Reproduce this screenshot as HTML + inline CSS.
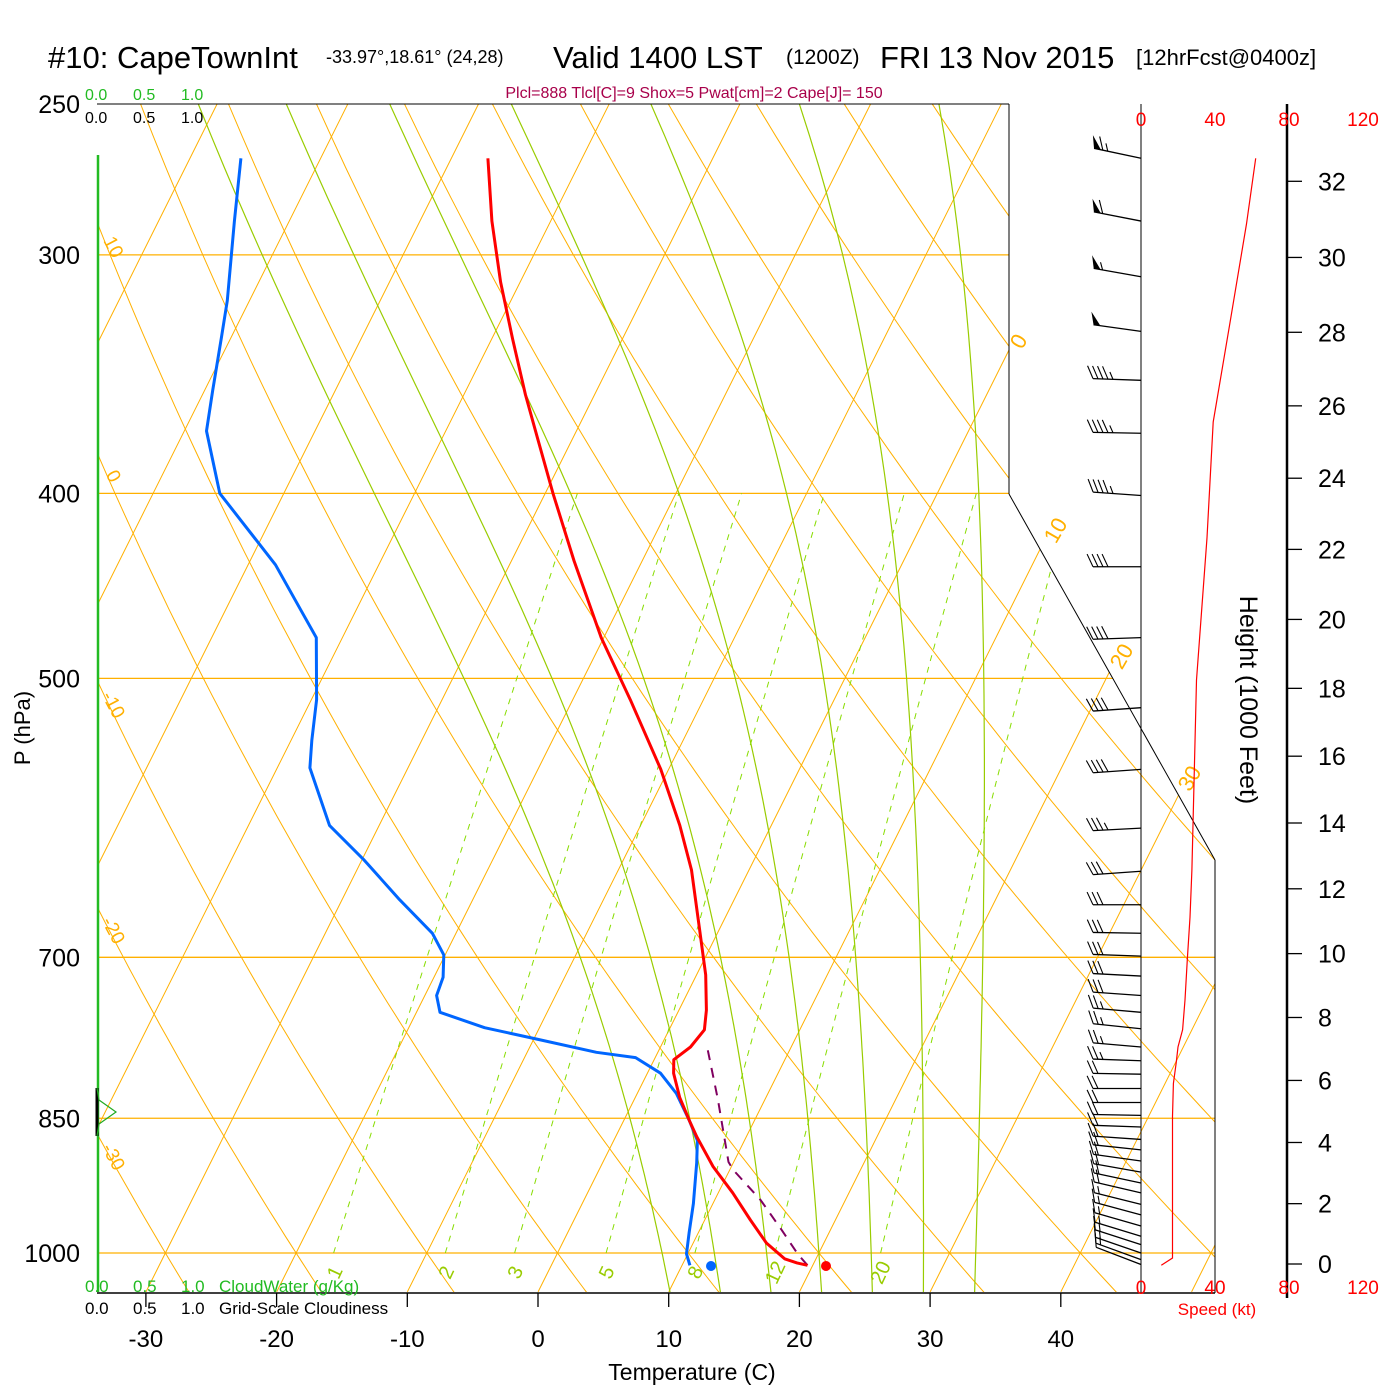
<!DOCTYPE html>
<html><head><meta charset="utf-8"><title>Skew-T CapeTownInt</title>
<style>
html,body{margin:0;padding:0;background:#fff;}
svg{display:block;font-family:"Liberation Sans",Arial,sans-serif;}
</style></head>
<body>
<svg id="chart" width="1400" height="1400" viewBox="0 0 1400 1400" xmlns="http://www.w3.org/2000/svg">
<defs>
<clipPath id="plotclip"><polygon points="97,104 1009,104 1009,494 1215,860 1215,1292 97,1292"/></clipPath>
</defs>
<rect x="0" y="0" width="1400" height="1400" fill="#fff"/>
<g id="grid" clip-path="url(#plotclip)"></g>
<g id="gridlabels"></g>
<g id="frame">
<line x1="97" y1="104" x2="1009" y2="104" stroke="#000" stroke-width="1"/>
<line x1="1009" y1="104" x2="1009" y2="494" stroke="#000" stroke-width="1"/>
<line x1="1009" y1="494" x2="1215" y2="860" stroke="#000" stroke-width="1"/>
<line x1="1215" y1="860" x2="1215" y2="1293" stroke="#000" stroke-width="1"/>
<line x1="97" y1="1293" x2="1215" y2="1293" stroke="#000" stroke-width="1.5"/>
<line x1="1141" y1="104" x2="1141" y2="1293" stroke="#000" stroke-width="1"/>
<line x1="1287" y1="104" x2="1287" y2="1298" stroke="#000" stroke-width="2.5"/>
<line x1="98" y1="155" x2="98" y2="1292" stroke="#22bb22" stroke-width="2.5"/>
<line x1="97" y1="1088" x2="97" y2="1136" stroke="#000" stroke-width="3"/>
<polyline points="97,1088 99,1100 116,1112 99,1124 97,1136" fill="none" stroke="#22aa22" stroke-width="1.2"/>
</g>
<g id="series"></g>
<g id="wind"></g>
<g id="axes"></g>
<g>
<text x="48" y="68" font-size="31">#10: CapeTownInt</text>
<text x="326" y="63" font-size="18">-33.97°,18.61° (24,28)</text>
<text x="553" y="68" font-size="31">Valid 1400 LST</text>
<text x="786" y="64" font-size="21">(1200Z)</text>
<text x="880" y="68" font-size="31">FRI 13 Nov 2015</text>
<text x="1136" y="65" font-size="22">[12hrFcst@0400z]</text>
<text x="694" y="98" font-size="16" fill="#a8004a" text-anchor="middle">Plcl=888 Tlcl[C]=9 Shox=5 Pwat[cm]=2 Cape[J]= 150</text>
<g font-size="16" fill="#22bb22"><text x="85" y="100">0.0</text><text x="133" y="100">0.5</text><text x="181" y="100">1.0</text></g>
<g font-size="16" fill="#000"><text x="85" y="123">0.0</text><text x="133" y="123">0.5</text><text x="181" y="123">1.0</text></g>
<g font-size="17" fill="#22bb22"><text x="85" y="1292">0.0</text><text x="133" y="1292">0.5</text><text x="181" y="1292">1.0</text><text x="219" y="1292">CloudWater (g/Kg)</text></g>
<g font-size="17" fill="#000"><text x="85" y="1314">0.0</text><text x="133" y="1314">0.5</text><text x="181" y="1314">1.0</text><text x="219" y="1314">Grid-Scale Cloudiness</text></g>
<text x="692" y="1380" font-size="23" text-anchor="middle">Temperature (C)</text>
<text transform="translate(30,728) rotate(-90)" font-size="22" text-anchor="middle">P (hPa)</text>
<text transform="translate(1240,700) rotate(90)" font-size="25" text-anchor="middle">Height (1000 Feet)</text>
<text x="1217" y="1315" font-size="17" fill="#ff0000" text-anchor="middle">Speed (kt)</text>
</g>
<circle cx="711" cy="1266" r="5" fill="#0066ff"/>
<circle cx="826" cy="1266" r="5" fill="#ff0000"/>
</svg>
<script>
// ---------- data ----------
const tempP = [267,288,310,332,355,375,400,434,476,513,558,597,630,677,715,746,764,780,792,805,829,852,869,901,930,961,988,1007,1012,1015];
const tempC = [-47.2,-44.5,-41.5,-38.4,-35.3,-32.6,-29.4,-25.2,-20.2,-15.6,-10.6,-7.0,-4.4,-1.5,0.7,2.1,2.7,2.3,1.5,2.0,3.4,5.0,6.2,8.6,11.1,13.5,15.6,17.6,18.7,19.6];
const dewP = [267,288,317,332,353,371,400,413,436,460,476,513,539,557,597,622,653,680,698,717,733,748,762,772,785,790,805,825,852,873,897,942,976,1001,1015];
const dewC = [-66.1,-64.2,-61.7,-60.7,-59.4,-58.3,-54.9,-52.3,-47.9,-44.3,-42.0,-39.6,-38.4,-37.5,-33.8,-29.9,-25.6,-21.8,-20.1,-19.3,-19.1,-18.2,-14.2,-10.0,-4.7,-1.5,1.0,3.0,5.0,6.4,7.2,8.5,9.3,9.9,10.6];
const parcelP = [1015,1001,973,938,905,896,831,777];
const parcelC = [19.6,18.4,16.3,13.5,10.3,9.6,6.4,3.4];
const speedP = [1015,1006,997,919,848,815,795,780,764,737,702,667,630,501,422,367,326,289,267];
const speedKt = [11,17,17,17,17,17.5,19,20,22.5,23.8,25,26.5,27.5,30,35.7,39,48,57,62];
const barbP = [267,288,308,329,349,372,401,437,476,518,558,599,631,657,680,699,716,733,748,763,780,793,806,820,834,847,859,872,883,895,907,919,930,943,955,968,980,990,1000,1008,1014];
const barbKt = [65,60,55,50,45,45,45,40,40,40,40,35,30,30,30,30,30,30,25,25,25,25,20,20,20,20,20,20,20,20,20,20,20,15,15,15,15,15,15,15,10];
const barbDir = [282,281,280,278,272,271,274,270,268,266,266,267,266,270,271,272,273,274,275,276,275,272,271,270,270,271,272,274,276,278,280,282,283,284,285,286,287,288,289,290,291];
const isothermVals = [-110,-100,-90,-80,-70,-60,-50,-40,-30,-20,-10,0,10,20,30,40,50,60];
const dryThetaVals = [-40,-30,-20,-10,0,10,20,30,40,50,60,70,80,90,100,110,120,130,140];
const moistThetaVals = [8,12,16,20,24,28,32];
const mixRatioVals = [1,2,3,5,8,12,20];
const pressureLevels = [300,400,500,700,850,1000];
const pressureLabels = [250,300,400,500,700,850,1000];
const tempTicks = [-30,-20,-10,0,10,20,30,40];
const heightTicks = [0,2,4,6,8,10,12,14,16,18,20,22,24,26,28,30,32];
const speedTicks = [0,40,80,120];
const leftThetaLabels = [10,0,-10,-20,-30];
const rightIsoLabels = [0,10,20,30];

// ---------- axis functions ----------
const NS='http://www.w3.org/2000/svg';
function yOf(p){return 1253-829*Math.log(1000/p);}
function xOf(T,p){return 538+13.07*T+0.5*(1292-yOf(p));}
function xSpd(k){return 1141+1.85*k;}
function yHeight(kft){const z=kft*304.8;return 1264+829*5.2559*Math.log(1-2.2558e-5*z);}
function mk(tag,attrs){const e=document.createElementNS(NS,tag);for(const k in attrs)e.setAttribute(k,attrs[k]);return e;}
function pts(arr){return arr.map(a=>a[0].toFixed(1)+','+a[1].toFixed(1)).join(' ');}
function esat(Tc){return 6.112*Math.exp(17.67*Tc/(Tc+243.5));}
function tdFromE(e){const l=Math.log(e/6.112);return 243.5*l/(17.67-l);}

const grid=document.getElementById('grid');
const glab=document.getElementById('gridlabels');
const series=document.getElementById('series');
const wind=document.getElementById('wind');
const axes=document.getElementById('axes');
const ORANGE='#ffb000', GREEN='#99cc00';

for(const p of pressureLevels){
  const l=mk('line',{x1:97,x2:1215,y1:yOf(p),y2:yOf(p),stroke:ORANGE,'stroke-width':1.3});
  
  
  grid.appendChild(l);
}
for(const T of isothermVals){
  const l=mk('line',{x1:xOf(T,1048),y1:yOf(1048),x2:xOf(T,250),y2:yOf(250),stroke:ORANGE,'stroke-width':1});
  
  
  grid.appendChild(l);
}
for(const th of dryThetaVals){
  const a=[];
  for(let p=1050;p>=248;p-=10){const T=(th+273.15)*Math.pow(p/1000,0.2857)-273.15;a.push([xOf(T,p),yOf(p)]);}
  const l=mk('polyline',{points:pts(a),fill:'none',stroke:ORANGE,'stroke-width':1});
  
  
  grid.appendChild(l);
}
function dTdp(p,Tk){const Rd=287.04,Cp=1005.7,Lv=2.501e6,eps=0.622;const es=esat(Tk-273.15);const rs=eps*es/(p-es);
  return (1/p)*(Rd*Tk+Lv*rs)/(Cp+(Lv*Lv*rs*eps)/(Rd*Tk*Tk));}
for(const tw of moistThetaVals){
  let Tk=tw+273.15, p=1000; const down=[];
  let T2=Tk; for(let q=1000;q<1050;q+=2){T2+=dTdp(q,T2)*2;} down.push([xOf(T2-273.15,1050),yOf(1050)]);
  const a=[[xOf(tw,1000),yOf(1000)]];
  while(p>250){Tk-=dTdp(p,Tk)*2;p-=2;if(p%10===0)a.push([xOf(Tk-273.15,p),yOf(p)]);}
  const l=mk('polyline',{points:pts(down.concat(a)),fill:'none',stroke:GREEN,'stroke-width':1.2});
  
  
  grid.appendChild(l);
}
for(const w of mixRatioVals){
  const a=[];
  for(let p=1000;p>=400;p-=10){const e=w*p/(622+w);a.push([xOf(tdFromE(e),p),yOf(p)]);}
  const l=mk('polyline',{points:pts(a),fill:'none',stroke:'#88dd00','stroke-width':1,'stroke-dasharray':'6,6'});
  
  
  grid.appendChild(l);
  const e=w*980/(622+w);const tx=xOf(tdFromE(e),980)+2, ty=yOf(980)+39;
  const t=mk('text',{x:0,y:0,transform:`translate(${tx},${ty}) rotate(-65)`,'font-size':20,fill:'#99cc00','text-anchor':'middle'});
  t.textContent=w;
  
  
  glab.appendChild(t);
}
for(const th of leftThetaLabels){
  let yy=104;for(let p=250;p<=1050;p+=1){const T=(th+273.15)*Math.pow(p/1000,0.2857)-273.15;if(xOf(T,p)>=97){yy=yOf(p);break;}}
  const t=mk('text',{x:0,y:0,transform:`translate(108,${yy+26}) rotate(62)`,'font-size':19,fill:ORANGE,'text-anchor':'middle'});
  t.textContent=th;
  
  
  glab.appendChild(t);
}
const rightPos={0:[1025,345],10:[1062,534],20:[1128,660],30:[1196,782]};
for(const T of rightIsoLabels){
  const ps=rightPos[T];
  const t=mk('text',{x:0,y:0,transform:`translate(${ps[0]},${ps[1]}) rotate(-60)`,'font-size':22,fill:ORANGE,'text-anchor':'middle'});
  t.textContent=T;
  
  
  glab.appendChild(t);
}

function profile(P,C,color,w,name,dash){
  const a=P.map((p,i)=>[xOf(C[i],p),yOf(p)]);
  const attrs={points:pts(a),fill:'none',stroke:color,'stroke-width':w,'stroke-linejoin':'round'};
  if(dash)attrs['stroke-dasharray']=dash;
  const l=mk('polyline',attrs);
  
  
  series.appendChild(l);
}
profile(parcelP,parcelC,'#800060',2,'parcel-path','10,8');
profile(dewP,dewC,'#0066ff',3,'dewpoint-profile');
profile(tempP,tempC,'#ff0000',3,'temperature-profile');

{
  const a=speedP.map((p,i)=>[xSpd(speedKt[i]),yOf(p)]);
  const l=mk('polyline',{points:pts(a),fill:'none',stroke:'#ff0000','stroke-width':1.2});
  
  
  wind.appendChild(l);
}
function rot(u,deg){const r=deg*Math.PI/180,c=Math.cos(r),s=Math.sin(r);return [u[0]*c-u[1]*s,u[0]*s+u[1]*c];}
barbP.forEach((p,i)=>{
  const g=mk('g',{});
  
  
  const bx=1141, by=yOf(p), L=48, d=barbDir[i]*Math.PI/180;
  const u=[Math.sin(d),-Math.cos(d)];
  const tip=[bx+u[0]*L,by+u[1]*L];
  g.appendChild(mk('line',{x1:bx,y1:by,x2:tip[0],y2:tip[1],stroke:'#000','stroke-width':1.3}));
  const f=rot(u,65); let spd=barbKt[i]; let pos=0;
  const inward=[-u[0],-u[1]];
  while(spd>=50){const a=[tip[0]+inward[0]*pos,tip[1]+inward[1]*pos];
    const b=[a[0]+inward[0]*7,a[1]+inward[1]*7];const c=[a[0]+f[0]*14+inward[0]*2,a[1]+f[1]*14+inward[1]*2];
    g.appendChild(mk('polygon',{points:pts([a,c,b]),fill:'#000'}));pos+=9;spd-=50;}
  while(spd>=10){const a=[tip[0]+inward[0]*pos,tip[1]+inward[1]*pos];
    g.appendChild(mk('line',{x1:a[0],y1:a[1],x2:a[0]+f[0]*14,y2:a[1]+f[1]*14,stroke:'#000','stroke-width':1.1}));pos+=5;spd-=10;}
  if(spd>=5){if(pos===0)pos=5;const a=[tip[0]+inward[0]*pos,tip[1]+inward[1]*pos];
    g.appendChild(mk('line',{x1:a[0],y1:a[1],x2:a[0]+f[0]*8,y2:a[1]+f[1]*8,stroke:'#000','stroke-width':1.1}));}
  wind.appendChild(g);
});

for(const p of pressureLabels){
  const t=mk('text',{x:80,y:yOf(p)+9,'font-size':25,'text-anchor':'end'});
  t.textContent=p;
  
  
  axes.appendChild(t);
}
for(const T of tempTicks){
  const x=538+13.07*T;
  const l=mk('line',{x1:x,x2:x,y1:1293,y2:1307,stroke:'#000','stroke-width':1.3});
  
  
  axes.appendChild(l);
  const t=mk('text',{x:x,y:1347,'font-size':24,'text-anchor':'middle'});
  t.textContent=T;
  
  
  axes.appendChild(t);
}
for(const h of heightTicks){
  const y=yHeight(h);
  const l=mk('line',{x1:1287,x2:1302,y1:y,y2:y,stroke:'#000','stroke-width':1.3});
  
  
  axes.appendChild(l);
  const t=mk('text',{x:1318,y:y+9,'font-size':25});
  t.textContent=h;
  
  
  axes.appendChild(t);
}
for(const s of speedTicks){
  for(const yy of [126,1294]){
    const t=mk('text',{x:xSpd(s),y:yy,'font-size':19,fill:'#ff0000','text-anchor':'middle'});
    t.textContent=s;
    
    
    axes.appendChild(t);
  }
}
</script>
</body></html>
